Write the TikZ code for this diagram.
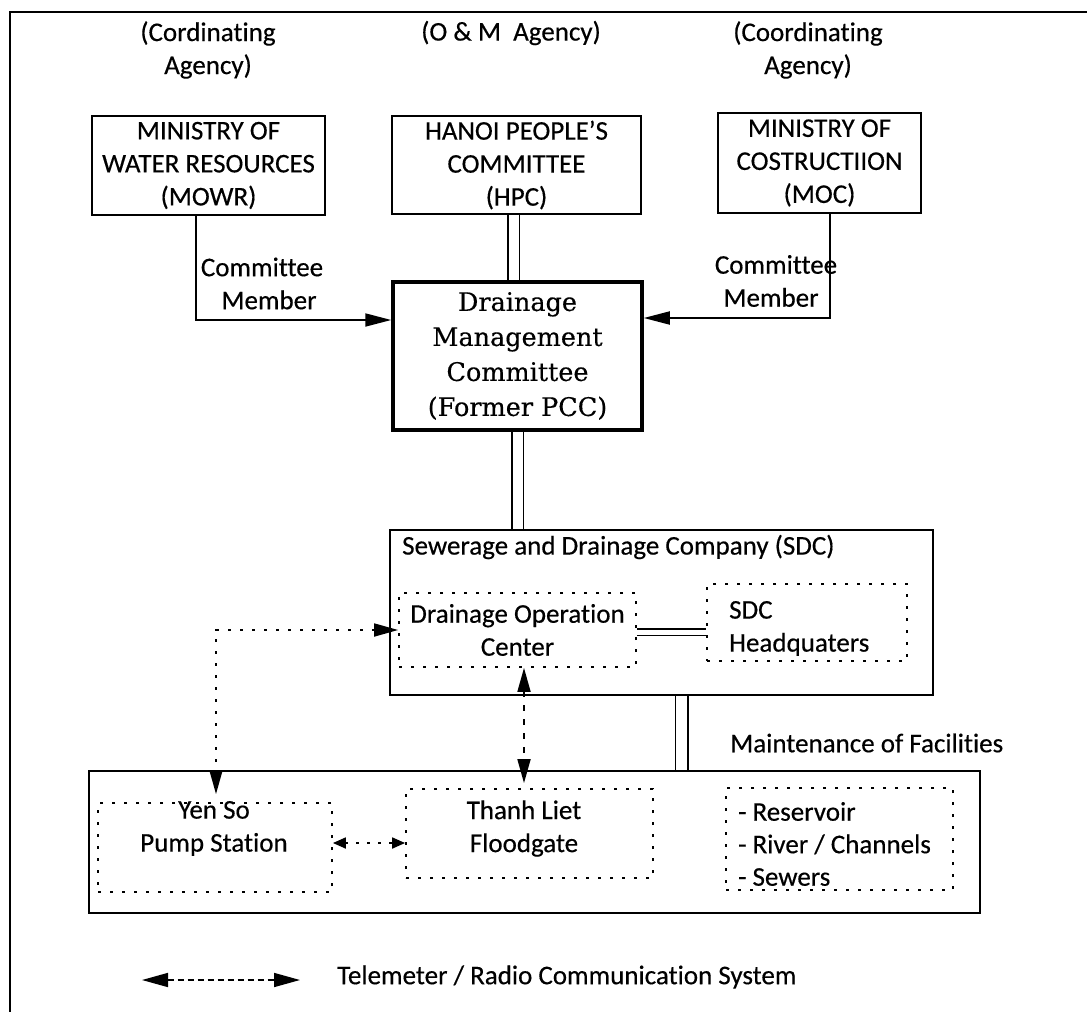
\documentclass[tikz,border=0pt]{standalone}
\usepackage{fontspec}
\setmainfont{Carlito}[Ligatures=NoCommon, FakeBold=0.4]
\newfontfamily\dmcfont{DejaVu Serif}[FakeBold=0.4]
\usetikzlibrary{arrows.meta,calc}
\tikzset{
  txt/.style={font=\fontsize{27}{33}\selectfont, inner sep=0pt, align=center},
  solidbox/.style={draw, line width=1.8pt, inner sep=0pt, align=center,
    font=\fontsize{27}{33}\selectfont},
  dotbox/.style={draw, line width=1.8pt, dash pattern=on 3pt off 9pt, inner sep=0pt,
    align=center, font=\fontsize{27}{33}\selectfont},
  arr/.style={line width=1.8pt, -{Triangle[length=26pt,width=13pt]}},
  dbl/.style={double, line width=1.5pt, double distance=10pt},
  telem/.style={line width=1.8pt, dash pattern=on 3pt off 9pt,
    {Triangle[length=24pt,width=13pt]}-{Triangle[length=24pt,width=13pt]}},
  telemsmall/.style={line width=1.8pt, dash pattern=on 3pt off 8pt,
    {Triangle[length=13pt,width=11pt]}-{Triangle[length=13pt,width=11pt]}},
  legarr/.style={line width=1.6pt, dash pattern=on 6pt off 4pt,
    {Triangle[length=26pt,width=14pt]}-{Triangle[length=26pt,width=14pt]}},
  frame/.style={line width=2pt}
}
\begin{document}
\begin{tikzpicture}[x=1pt,y=-1pt]
\useasboundingbox (0,0) rectangle (1087,1012);
% outer frame
\coordinate (fBL) at (10,1012);
\coordinate (fTL) at (10,12);
\coordinate (fTR) at (1087,12);
\draw[frame] (fBL) -- (fTL) -- (fTR);

% headers
\node[txt] (h1) at (208,50) {(Cordinating\\Agency)};
\node[txt] (h2) at (511,33) {(O \& M\ \ Agency)};
\node[txt] (h3) at (808,50) {(Coordinating\\Agency)};

% top boxes
\node[solidbox, minimum width=233pt, minimum height=99pt] (MOWR) at (208.5,165.5)
  {MINISTRY OF\\WATER RESOURCES\\(MOWR)};
\node[solidbox, minimum width=249pt, minimum height=98pt] (HPC) at (516.5,165)
  {HANOI PEOPLE'S\\COMMITTEE\\(HPC)};
\node[solidbox, minimum width=203pt, minimum height=100pt] (MOC) at (819.5,163)
  {MINISTRY OF\\COSTRUCTIION\\(MOC)};

% committee
\node[draw, line width=3.5pt, minimum width=249pt, minimum height=148pt, inner sep=0pt,
  align=center, font=\dmcfont\fontsize{25.5}{35}\selectfont] (DMC) at (517.5,356)
  {Drainage\\Management\\Committee\\(Former PCC)};

\node[txt] (cm1) at (262,283.5) {Committee\\\hspace*{14pt}Member};
\node[txt] (cm2) at (776,281) {Committee\\Member\hspace*{10pt}};

\draw[arr] (MOWR.south -| 196,0) |- (DMC.west |- 0,320);
\draw[arr] (MOC.south -| 830,0) |- (DMC.east |- 0,318);
\draw[dbl] (HPC.south -| 513.5,0) -- (DMC.north -| 513.5,0);

% SDC
\node[solidbox, minimum width=543pt, minimum height=165pt] (SDC) at (661.5,612.5) {};
\node[txt, anchor=west] (SDCt) at (402,547) {Sewerage and Drainage Company (SDC)};
\node[dotbox, minimum width=237pt, minimum height=74pt] (DOC) at (517.5,630)
  {Drainage Operation\\Center};
\node[dotbox, minimum width=200pt, minimum height=77pt] (HQ) at (807,622.5) {};
\node[txt, anchor=west, align=left] (HQt) at (729,628.5) {SDC\\Headquaters};

\draw[dbl] (DMC.south) -- (DMC.south |- SDC.north);
\draw[double, line width=1.2pt, double distance=5pt] (DOC.east |- 0,632) -- (HQ.west |- 0,632);

% lower
\node[solidbox, minimum width=891pt, minimum height=142pt] (LOW) at (534.5,842) {};
\node[txt, anchor=west] (MF) at (730,743) {Maintenance of Facilities};
\draw[dbl, double distance=11pt] (SDC.south -| 681.5,0) -- (LOW.north -| 681.5,0);

\node[dotbox, minimum width=234pt, minimum height=89pt] (YS) at (215,847.5) {};
\node[txt] (YSt) at (214,828.5) {Yen So\\Pump Station};
\node[dotbox, minimum width=247pt, minimum height=89pt] (TL) at (529.5,833.5) {};
\node[txt] (TLt) at (524,828.5) {Thanh Liet\\Floodgate};
\node[dotbox, minimum width=227pt, minimum height=102pt] (RS) at (839.5,839) {};
\node[txt, anchor=west, align=left, font=\fontsize{27}{32.5}\selectfont] (RSt) at (738,844)
  {- Reservoir\\- River / Channels\\- Sewers};

% telemetry
\draw[telem] (DOC.west) -| ($(YS.north -| 216,0)+(0,-8)$);
\draw[telem, dash pattern=on 6pt off 8pt] (DOC.south -| 524,0) -- ($(TL.north -| 524,0)+(0,-5)$);
\draw[telemsmall] (YS.east |- 0,843) -- (TL.west |- 0,843);

% legend
\coordinate (legA) at (142,980);
\coordinate (legB) at (300,980);
\draw[legarr] (legA) -- (legB);
\node[txt, anchor=west] (legt) at (337,977) {Telemeter / Radio Communication System};
\end{tikzpicture}
\end{document}
